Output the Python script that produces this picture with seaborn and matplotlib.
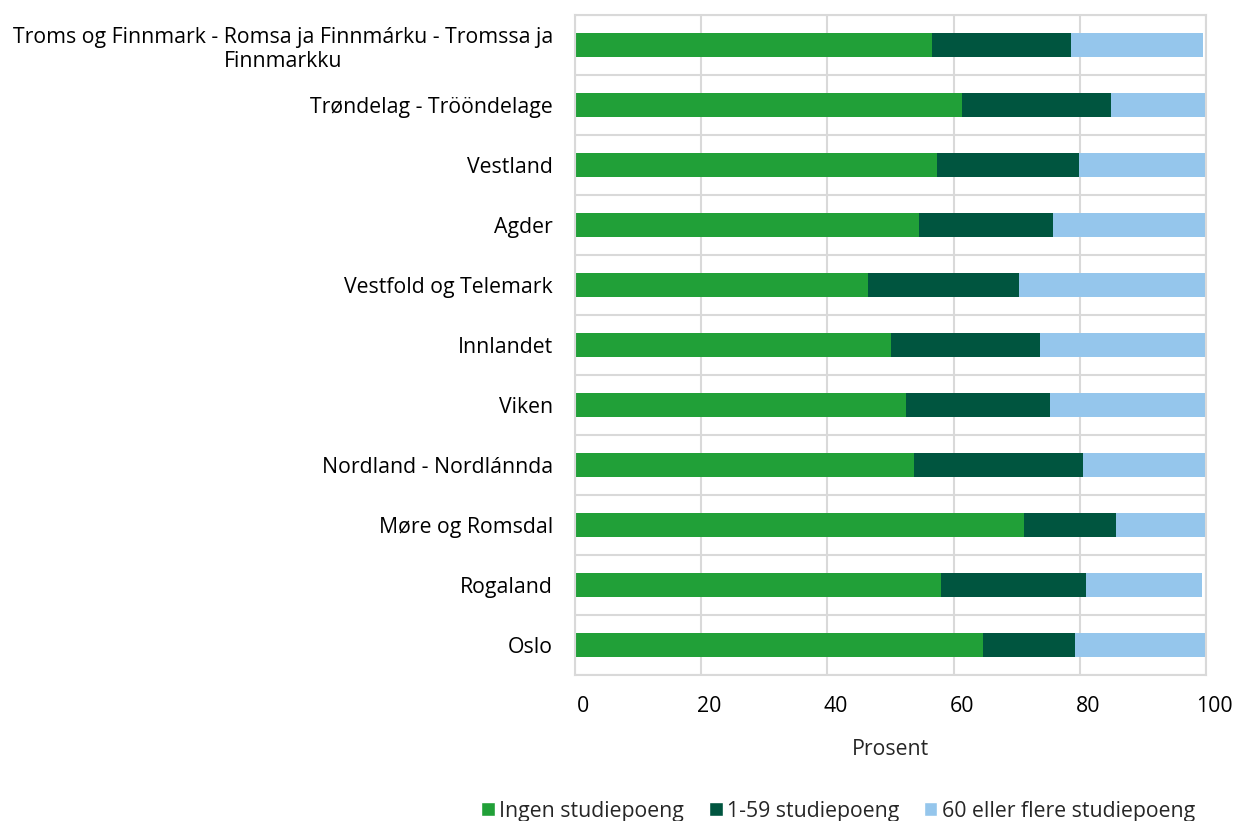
import matplotlib
matplotlib.use("Agg")
import matplotlib.pyplot as plt
import matplotlib.transforms as mtransforms
from matplotlib.patches import Patch
import numpy as np
import pandas as pd
import seaborn as sns

regions = [
    "Troms og Finnmark - Romsa ja Finnmárku - Tromssa ja\nFinnmarkku",
    "Trøndelag - Trööndelage",
    "Vestland",
    "Agder",
    "Vestfold og Telemark",
    "Innlandet",
    "Viken",
    "Nordland - Nordlánnda",
    "Møre og Romsdal",
    "Rogaland",
    "Oslo",
]
ingen = [56.5, 61.4, 57.4, 54.5, 46.4, 50.1, 52.5, 53.7, 71.2, 58.0, 64.7]
en_59 = [22.1, 23.5, 22.5, 21.3, 24.0, 23.6, 22.8, 26.8, 14.5, 23.0, 14.5]
seksti = [20.9, 15.1, 20.1, 24.2, 29.6, 26.3, 24.5, 19.5, 14.3, 18.4, 20.8]
series_names = ["Ingen studiepoeng", "1-59 studiepoeng", "60 eller flere studiepoeng"]
colors = ["#21a038", "#00553f", "#95c6ec"]

sns.set_style("white")
plt.rcParams["font.family"] = ["Open Sans", "DejaVu Sans"]
fs = 15.3

df = pd.DataFrame({"region": regions, "ingen": ingen, "en_59": en_59, "seksti": seksti})
df["c1"] = df["ingen"]
df["c2"] = df["ingen"] + df["en_59"]
df["c3"] = df["c2"] + df["seksti"]

fig = plt.figure(figsize=(12.34, 8.21), dpi=100)
ax = fig.add_axes([575 / 1234, 1 - 675 / 821, 631 / 1234, 660 / 821])

# stablet: tegn totalsum først, så delsummene oppå
for col, c in zip(["c3", "c2", "c1"], colors[::-1]):
    sns.barplot(data=df, x=col, y="region", orient="h", color=c, width=0.4,
                saturation=1, ax=ax, linewidth=0)

ax.set_xlim(0, 100)
ax.set_ylim(len(regions) - 0.5, -0.5)
ax.set_xticks(np.arange(0, 101, 20))
ax.set_yticks(np.arange(-0.5, len(regions), 1), minor=True)
ax.grid(True, axis="x", color="#d9d9d9", linewidth=1.5)
ax.grid(True, axis="y", which="minor", color="#d9d9d9", linewidth=1.5)
ax.set_axisbelow(True)
for s in ax.spines.values():
    s.set_color("#d9d9d9")
    s.set_linewidth(1.5)
ax.tick_params(axis="both", which="both", length=0, labelsize=fs, colors="#000000")
ax.tick_params(axis="x", pad=15)
ax.tick_params(axis="y", pad=16)
for lbl in ax.get_yticklabels():
    lbl.set_multialignment("center")
offset = mtransforms.ScaledTranslation(8 / 100, 0, fig.dpi_scale_trans)
for lbl in ax.get_xticklabels():
    lbl.set_transform(lbl.get_transform() + offset)
ax.set_ylabel("")
ax.set_xlabel("Prosent", fontsize=fs, labelpad=16)

handles = [Patch(facecolor=c, label=n) for c, n in zip(colors, series_names)]
fig.legend(handles=handles, loc="lower right", bbox_to_anchor=(1214 / 1234, -0.024),
           ncol=3, frameon=False, fontsize=fs, handlelength=0.65, handleheight=0.65,
           handletextpad=0.2, columnspacing=1.15)

fig.savefig("out.png", dpi=100)
